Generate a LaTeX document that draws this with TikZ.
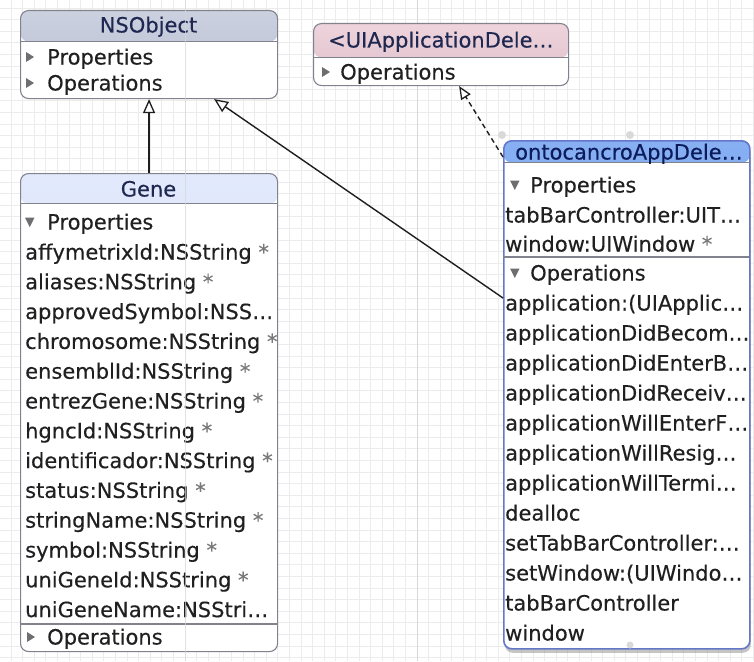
\documentclass[tikz,border=0pt]{standalone}
\usepackage{fontspec}
\setmainfont{DejaVu Sans}[FakeBold=0.3]
\usetikzlibrary{arrows.meta,shadows}
\definecolor{boxline}{RGB}{128,130,142}
\definecolor{hdrGrayTop}{RGB}{204,209,224}
\definecolor{hdrGrayBot}{RGB}{182,189,208}
\definecolor{pinkTop}{RGB}{238,212,220}
\definecolor{pinkBot}{RGB}{222,190,202}
\definecolor{geneTop}{RGB}{226,233,252}
\definecolor{geneBot}{RGB}{206,219,246}
\definecolor{ontoTop}{RGB}{135,175,242}
\definecolor{ontoBot}{RGB}{92,140,228}
\definecolor{ontoline}{RGB}{100,120,200}
\definecolor{hdrtext}{RGB}{30,40,80}
\definecolor{ontotext}{RGB}{12,28,90}
\definecolor{bodytext}{RGB}{32,32,32}
\definecolor{marker}{RGB}{110,110,110}
\definecolor{astc}{RGB}{120,120,120}
\definecolor{conn}{RGB}{30,30,30}
\definecolor{gridminor}{RGB}{236,236,236}
\definecolor{gridmajor}{RGB}{215,215,215}
\newcommand\MarkR[2]{\fill[marker] (#1,#2-5) -- (#1+8,#2) -- (#1,#2+5) -- cycle;}
\newcommand\MarkD[2]{\fill[marker] (#1,#2-4.5) -- (#1+9.5,#2-4.5) -- (#1+4.75,#2+5) -- cycle;}
\newcommand\astmark{{\color{astc}*}}
\tikzset{
  umlbox/.style n args={3}{draw=boxline, line width=1.1pt, rounded corners=8pt,
    fill=white, inner sep=0pt,
    path picture={
      \shade[top color=#1, bottom color=#2]
        (path picture bounding box.north west) rectangle
        ([yshift=-#3 pt]path picture bounding box.north east);
      \draw[boxline, line width=1.1pt]
        ([yshift=-#3 pt]path picture bounding box.north west) --
        ([yshift=-#3 pt]path picture bounding box.north east);
    }},
  txt/.style={inner sep=0pt, anchor=west, text height=17pt, text depth=2pt,
    font=\fontsize{21}{21}\selectfont, text=bodytext},
  hdrtxt/.style={txt, text=hdrtext},
  inherit/.style={draw=conn, line width=1.4pt,
    -{Triangle[length=14pt, width=12pt, fill=white, line width=1.3pt]}},
  realize/.style={draw=conn, line width=1.4pt, dash pattern=on 5pt off 3.5pt,
    -{Triangle[length=13pt, width=11pt, fill=white, line width=1.3pt]}},
  sepline/.style={draw=boxline, line width=1.1pt},
  handle/.style={fill=black!15},
}
\begin{document}
\begin{tikzpicture}[x=1pt, y=-1pt]
\useasboundingbox (0,0) rectangle (754,661);
\fill[white] (0,0) rectangle (754,661);
% grid
\foreach \i in {0,...,64} {\draw[gridminor, line width=0.8pt] ({11+11.6*\i},0) -- ({11+11.6*\i},661);}
\foreach \i in {0,...,57} {\draw[gridminor, line width=0.8pt] (0,{8+11.6*\i}) -- (754,{8+11.6*\i});}
\draw[gridmajor, line width=1pt] (417,0) -- (417,661);

% NSObject
\node[umlbox={hdrGrayTop}{hdrGrayBot}{31}, minimum width=257pt, minimum height=88pt, anchor=north west] (nsobj) at (20,10) {};
\node[hdrtxt, anchor=center] (nsobjT) at (148.5,25) {NSObject};
\MarkR{26}{57}
\node[txt] (nsobjP) at (47,57) {Properties};
\MarkR{26}{83}
\node[txt] (nsobjO) at (47,83) {Operations};

% UIApplicationDelegate
\node[umlbox={pinkTop}{pinkBot}{34}, minimum width=255pt, minimum height=62pt, anchor=north west] (uiapp) at (313,23) {};
\node[hdrtxt] (uiappT) at (328,40) {<UIApplicationDele…};
\MarkR{322}{72}
\node[txt] (uiappO) at (340,72) {Operations};

% Gene
\node[umlbox={geneTop}{geneBot}{30}, minimum width=257pt, minimum height=478pt, anchor=north west] (gene) at (20,173) {};
\node[hdrtxt, anchor=center] (geneT) at (148.5,189) {Gene};
\MarkD{25}{222}
\node[txt] (geneP) at (47,222) {Properties};
\node[txt] (g1) at (25,252.0) {affymetrixId:NSString \astmark};
\node[txt] (g2) at (25,281.8) {aliases:NSString \astmark};
\node[txt] (g3) at (25,311.6) {approvedSymbol:NSS…};
\node[txt] (g4) at (25,341.4) {chromosome:NSString \astmark};
\node[txt] (g5) at (25,371.2) {ensemblId:NSString \astmark};
\node[txt] (g6) at (25,401.0) {entrezGene:NSString \astmark};
\node[txt] (g7) at (25,430.8) {hgncId:NSString \astmark};
\node[txt] (g8) at (25,460.6) {identificador:NSString \astmark};
\node[txt] (g9) at (25,490.4) {status:NSString \astmark};
\node[txt] (g10) at (25,520.2) {stringName:NSString \astmark};
\node[txt] (g11) at (25,550.0) {symbol:NSString \astmark};
\node[txt] (g12) at (25,579.8) {uniGeneId:NSString \astmark};
\node[txt] (g13) at (25,609.6) {uniGeneName:NSStri…};
\draw[sepline] (20,624) -- (277,624);
\MarkR{27}{637}
\node[txt] (geneO) at (47,637) {Operations};
\draw[gridmajor, line width=1pt, opacity=0.7] (185,0) -- (185,661);

% ontocancroAppDelegate
\node[umlbox={ontoTop}{ontoBot}{22}, draw=ontoline, line width=1.6pt,
  drop shadow={shadow xshift=1pt, shadow yshift=-4pt, opacity=0.45},
  minimum width=246pt, minimum height=508pt, anchor=north west] (onto) at (503,140) {};
\node[txt, text=ontotext] (ontoT) at (515,152) {ontocancroAppDele…};
\MarkD{510}{185}
\node[txt] (ontoP) at (530,185) {Properties};
\node[txt] (op1) at (505,215) {tabBarController:UIT…};
\node[txt] (op2) at (505,244) {window:UIWindow \astmark};
\draw[sepline] (503,257) -- (749,257);
\MarkD{510}{273}
\node[txt] (ontoO) at (530,273) {Operations};
\node[txt] (oo1) at (505,303) {application:(UIApplic…};
\node[txt] (oo2) at (505,333) {applicationDidBecom…};
\node[txt] (oo3) at (505,363) {applicationDidEnterB…};
\node[txt] (oo4) at (505,393) {applicationDidReceiv…};
\node[txt] (oo5) at (505,423) {applicationWillEnterF…};
\node[txt] (oo6) at (505,453) {applicationWillResig…};
\node[txt] (oo7) at (505,483) {applicationWillTermi…};
\node[txt] (oo8) at (505,513) {dealloc};
\node[txt] (oo9) at (505,543) {setTabBarController:…};
\node[txt] (oo10) at (505,573) {setWindow:(UIWindo…};
\node[txt] (oo11) at (505,603) {tabBarController};
\node[txt] (oo12) at (505,633) {window};
\fill[handle] (502,135) circle (4);
\fill[handle] (630,135) circle (4);
\fill[handle] (630,645) circle (3.5);

% connectors
\coordinate (ontoIn) at ([yshift=-158pt]onto.north west);
\coordinate (ontoReal) at ([yshift=-17pt]onto.north west);
\draw[inherit] (gene.north) -- (nsobj.south);
\draw[inherit] (ontoIn) -- ([xshift=-64pt]nsobj.south east);
\draw[realize] (ontoReal) -- ([xshift=-110pt]uiapp.south east);
\end{tikzpicture}
\end{document}
